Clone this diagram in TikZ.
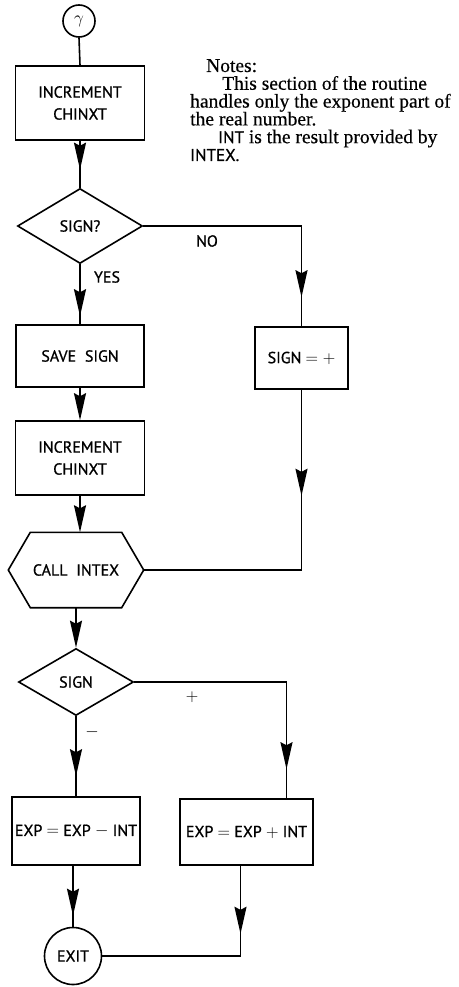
\documentclass[tikz,border=0pt]{standalone}
\usepackage{fontspec}
\setmainfont{Liberation Serif}[FakeBold=0.4]
\newfontfamily\chartfont{PT Sans}[FakeBold=0.9]
\usetikzlibrary{shapes.geometric,arrows.meta,decorations.markings}

\newcommand\chartlabel{\chartfont\fontsize{16}{22}\selectfont}

\tikzset{
  flowtip/.tip={Stealth[length=27pt,width=12pt,inset=3pt]},
  conn/.style={line width=1.6pt},
  tipat/.style={postaction={decorate},
    decoration={markings,mark=at position #1 with {\arrow{flowtip}}}},
  box/.style={draw,line width=1.6pt,rectangle,inner sep=0pt,
    font=\chartlabel,align=center},
  dia/.style={draw,line width=1.6pt,diamond,inner sep=0pt,font=\chartlabel},
  term/.style={draw,line width=1.6pt,circle,inner sep=0pt},
  lbl/.style={font=\chartlabel,inner sep=0pt},
}

\begin{document}
\begin{tikzpicture}[x=1pt,y=-1pt]
\useasboundingbox (0,0) rectangle (458,987);

% entry connector
\node[term,minimum size=32pt,font=\fontsize{19}{19}\selectfont] (gamma) at (79,21) {$\gamma$};

% left column
\node[box,minimum width=129pt,minimum height=74pt] (inc1) at (80,103) {INCREMENT\\CHINXT};
\node[dia,minimum width=125pt,minimum height=75pt] (d1) at (80,226) {SIGN?};
\node[box,minimum width=128pt,minimum height=62pt] (save) at (80,356) {SAVE\hspace{0.55em}SIGN};
\node[box,minimum width=129pt,minimum height=74pt] (inc2) at (80,458) {INCREMENT\\CHINXT};

% call block, drawn as a hexagon around a plain node
\node[minimum width=135pt,minimum height=75pt,inner sep=0pt,font=\chartlabel] (hex) at (76,570) {CALL\hspace{0.55em}INTEX};
\draw[line width=1.6pt,line join=miter] (hex.west) -- ([xshift=22pt]hex.north west) -- ([xshift=-22pt]hex.north east)
  -- (hex.east) -- ([xshift=-22pt]hex.south east) -- ([xshift=22pt]hex.south west) -- cycle;

\node[dia,minimum width=115pt,minimum height=67pt] (d2) at (76,682) {SIGN};
\node[box,minimum width=128pt,minimum height=68pt] (minus) at (76,831) {EXP $=$ EXP $-$ INT};
\node[term,minimum size=57pt,font=\chartlabel] (exit) at (73,956) {EXIT};

% right column
\node[box,minimum width=93pt,minimum height=62pt] (signplus) at (301.5,358) {SIGN $=+$};
\node[box,minimum width=133pt,minimum height=66pt] (plusbox) at (246.5,832) {EXP $=$ EXP $+$ INT};

% notes
\node[anchor=north west,inner sep=0pt,align=left,
  font=\fontsize{19.5}{17.8}\selectfont] (notes) at (190,59)
  {\hspace*{16pt}Notes:\\
   \hspace*{32pt}This section of the routine\\
   handles only the exponent part of\\
   the real number.\\
   \hspace*{28pt}{\chartfont\fontsize{17}{17.8}\selectfont INT} is the result provided by\\
   {\chartfont\fontsize{17}{17.8}\selectfont INTEX.}};

% connectors
\draw[conn] (gamma.south) -- (inc1.north);
\draw[conn,tipat=-18pt] (inc1.south) -- (d1.north);
\draw[conn,tipat=-29pt] (d1.east) -| (signplus.north);
\draw[conn,tipat=-8pt] (d1.south) -- (save.north);
\draw[conn,-{flowtip}] (save.south) -- (inc2.north);
\draw[conn,-{flowtip}] (inc2.south) -- (inc2.south |- hex.north);
\draw[conn,tipat=106pt] (signplus.south) |- (hex.east);
\draw[conn,-{flowtip}] (hex.south) -- (d2.north);
\draw[conn,tipat=-20pt] (d2.south) -- (d2.south |- minus.north);
\draw[conn,tipat=-29pt] (d2.east) -| ([xshift=40pt]plusbox.north);
\draw[conn,tipat=-11pt] (exit.north |- minus.south) -- (exit.north);
\draw[conn,tipat=68pt] ([xshift=-6pt]plusbox.south) |- (exit.east);

% branch labels
\node[lbl] (lno) at (207,241) {NO};
\node[lbl] (lyes) at (107,277) {YES};
\node[lbl,font=\fontsize{19}{19}\selectfont] (lplus) at (192,697) {$+$};
\node[lbl,font=\fontsize{19}{19}\selectfont] (lminus) at (92,732) {$-$};
\end{tikzpicture}
\end{document}
